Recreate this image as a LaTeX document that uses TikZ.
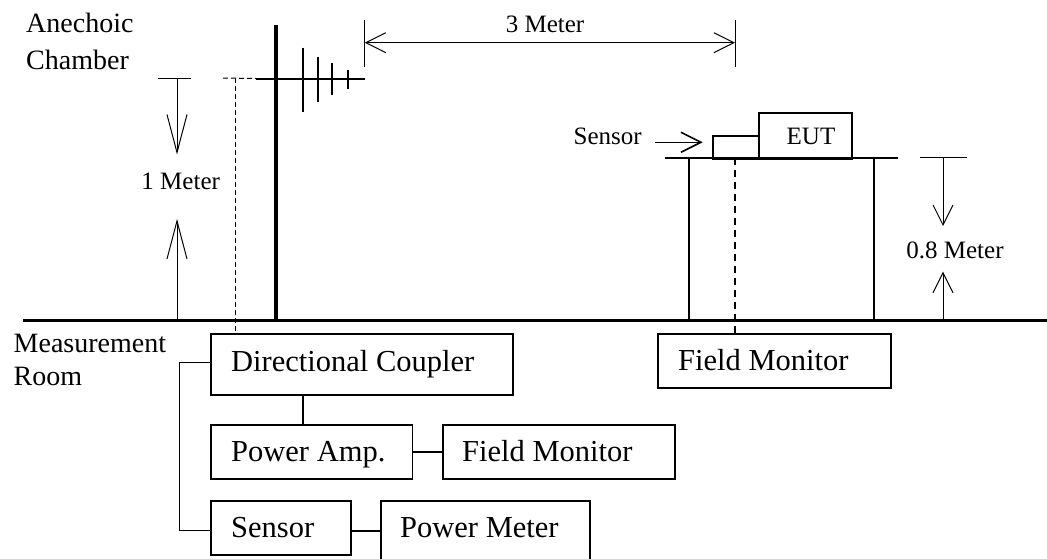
\documentclass[tikz,border=0pt]{standalone}
\usepackage{fontspec}
\setmainfont{Liberation Serif}
\usetikzlibrary{arrows.meta}
\tikzset{
  boxn/.style={draw=black,line width=1.8pt,inner sep=0pt,anchor=north west,fill=none},
  bl/.style={anchor=base west,inner sep=0pt,font=\fontsize{30.5}{30.5}\selectfont},
  sm/.style={anchor=base,inner sep=0pt,font=\fontsize{25}{25}\selectfont},
  rl/.style={anchor=base west,inner sep=0pt,font=\fontsize{28}{28}\selectfont},
  conn/.style={line width=1.5pt},
  connb/.style={line width=2pt},
  dim/.style={line width=1pt,-{Straight Barb[length=20pt,width=20pt,line width=1pt]}},
  dimb/.style={line width=1.6pt,-{Straight Barb[length=20pt,width=20pt,line width=1.6pt]}},
  tick/.style={line width=1pt},
  dsh/.style={line width=1pt,dash pattern=on 5pt off 3pt},
  dshb/.style={line width=1.5pt,dash pattern=on 7pt off 5pt},
}
\newcommand{\boxat}[5]{\node[boxn,minimum width=#4 pt,minimum height=#5 pt] (#1) at (#2,#3) {};}
\begin{document}
\begin{tikzpicture}[x=1pt,y=-1pt]
\useasboundingbox (0,0) rectangle (1047,558);
\clip (0,0) rectangle (1047,558);
% reference points
\coordinate (gl) at (23,320.5); \coordinate (gr) at (1047,320.5);
\coordinate (mt) at (275.7,25); \coordinate (mb) at (275.7,320.5);
\coordinate (al) at (256,78.5); \coordinate (ar) at (364.7,78.5);
\coordinate (dl) at (223,78); \coordinate (dc) at (235.3,78);
% boxes
\boxat{dcb}{210}{332.7}{302}{61.3}
\boxat{pa}{210}{424.3}{201.6}{53.7}
\boxat{fma}{442}{424.3}{232}{53.7}
\boxat{sn}{210}{500}{140}{54}
\boxat{pm}{380}{500}{209}{70}
\boxat{fmb}{657.3}{332.7}{232.7}{54}
\boxat{ss}{711.7}{134.7}{46.3}{23}
\boxat{eut}{758}{111.7}{93}{46}
% box texts
\node[bl] (tdc) at (231,371) {Directional Coupler};
\node[bl] (tpa) at (231,461.7) {Power Amp.};
\node[bl] (tfa) at (462,461.7) {Field Monitor};
\node[bl] (tsn) at (231,537.7) {Sensor};
\node[bl] (tpm) at (400,537.7) {Power Meter};
\node[bl] (tfb) at (678,370) {Field Monitor};
\node[sm] (teut) at (811,144) {EUT};
\node[sm] (tsl) at (607.7,144.5) {Sensor};
\node[sm] (t1m) at (180.7,189.5) {1 Meter};
\node[sm] (t3m) at (545,32) {3 Meter};
\node[sm] (t08) at (955,258.5) {0.8 Meter};
\node[rl] (ta) at (26,32) {Anechoic};
\node[rl] (tc) at (26,69) {Chamber};
\node[rl] (tm) at (13.5,352) {Measurement};
\node[rl] (tr) at (13.5,385) {Room};
% ground and mast
\draw[line width=3.6pt] (gl) -- (gr);
\draw[line width=4pt] (mt) -- (mb);
% antenna
\draw[line width=2pt] (al) -- (ar);
\foreach \x/\a/\b/\n in {302.7/47.7/111.7/e1,317.7/57/102/e2,332.3/62.7/94.7/e3,348/70/89/e4}{
  \coordinate (\n t) at (\x,\a); \coordinate (\n b) at (\x,\b);
  \draw[line width=2pt] (\n t) -- (\n b);
}
% dashed antenna feed
\draw[dsh] (dl) -- (al);
\draw[dsh] (dc) -- (dc |- dcb.north);
% table
\coordinate (tl) at (665,157.7); \coordinate (tr2) at (897.7,157.7);
\coordinate (lg1) at (688.7,157.7); \coordinate (lg2) at (873.7,157.7);
\draw[line width=1.6pt] (tl) -- (tr2);
\draw[line width=2.2pt] (lg1) -- (lg1 |- gl);
\draw[line width=2.2pt] (lg2) -- (lg2 |- gl);
\coordinate (dt) at (735,157.7);
\draw[dshb] (dt) -- (dt |- fmb.north);
% connectors
\draw[conn] (dcb.west |- 0,362.7) -| (179.5,530.7) -- (sn.west |- 0,530.7);
\draw[connb] (302.7,0 |- dcb.south) -- (302.7,0 |- pa.north);
\draw[connb] (pa.east) -- (fma.west);
\draw[connb] (sn.east |- 0,530.7) -- (pm.west |- 0,530.7);
% 1 metre dimension
\coordinate (a1) at (157.7,78); \coordinate (a2) at (191.3,78);
\draw[tick] (a1) -- (a2);
\coordinate (a3) at (177,78); \coordinate (a4) at (177,154.5);
\coordinate (a5) at (177,320.5); \coordinate (a6) at (177,219);
\draw[dim,-{Straight Barb[length=38pt,width=20pt,line width=1pt]}] (a3) -- (a4);
\draw[dim,-{Straight Barb[length=38pt,width=20pt,line width=1pt]}] (a5) -- (a6);
% 3 metre dimension
\coordinate (b1) at (364.7,20); \coordinate (b2) at (364.7,66.7);
\coordinate (b3) at (735,20); \coordinate (b4) at (735,66.7);
\coordinate (b5) at (364.7,42.7); \coordinate (b6) at (735,42.7);
\draw[tick] (b1) -- (b2);
\draw[tick] (b3) -- (b4);
\draw[line width=1pt,{Straight Barb[length=20pt,width=20pt,line width=1pt]}-{Straight Barb[length=20pt,width=20pt,line width=1pt]}] (b5) -- (b6);
% sensor arrow
\coordinate (s1) at (655,142.3); \coordinate (s2) at (702.7,142.3);
\draw[dimb] (s1) -- (s2);
% 0.8 metre dimension
\coordinate (c1) at (920,157.7); \coordinate (c2) at (966.7,157.7);
\draw[tick] (c1) -- (c2);
\coordinate (c3) at (943,157.7); \coordinate (c4) at (943,226);
\coordinate (c5) at (943,320.5); \coordinate (c6) at (943,271.7);
\draw[dim] (c3) -- (c4);
\draw[dim] (c5) -- (c6);
\end{tikzpicture}
\end{document}
